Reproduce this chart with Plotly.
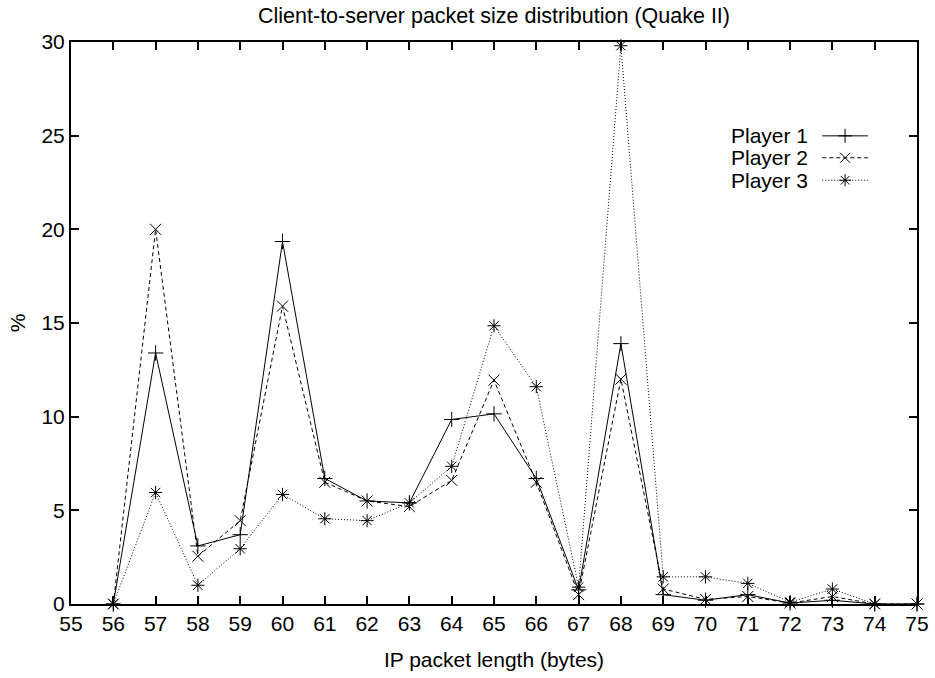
import plotly.graph_objects as go

sizes = [56, 57, 58, 59, 60, 61, 62, 63, 64, 65, 66, 67, 68, 69, 70, 71, 72, 73, 74, 75]
player1 = [0.0, 13.4, 3.1, 3.7, 19.35, 6.7, 5.5, 5.4, 9.85, 10.15, 6.7, 0.75, 13.9, 0.5, 0.2, 0.5, 0.05, 0.2, 0.0, 0.0]
player2 = [0.0, 20.0, 2.55, 4.45, 15.9, 6.5, 5.5, 5.2, 6.6, 11.95, 6.5, 0.5, 12.0, 0.8, 0.25, 0.4, 0.05, 0.4, 0.0, 0.0]
player3 = [0.0, 5.95, 1.0, 2.95, 5.85, 4.55, 4.45, 5.4, 7.35, 14.85, 11.6, 0.9, 29.8, 1.45, 1.45, 1.1, 0.1, 0.8, 0.0, 0.0]
names = ["Player 1", "Player 2", "Player 3"]
series = [player1, player2, player3]
dashes = ["solid", "4px,3px", "1px,2px"]
symbols = ["cross-thin-open", "x-thin-open", "asterisk-open"]
xticks = list(range(55, 76))
yticks = [0, 5, 10, 15, 20, 25, 30]

font = "Liberation Sans, Arial, sans-serif"
FS = 21
fig = go.Figure()
for n, s, d, sym in zip(names, series, dashes, symbols):
    fig.add_trace(go.Scatter(
        x=sizes, y=s, mode="lines+markers", name=n,
        line=dict(color="black", width=1, dash=d),
        marker=dict(symbol=sym, size=11, color="black", line=dict(color="black", width=1)),
        showlegend=False, cliponaxis=False,
    ))

# gnuplot-style legend (text then sample), drawn on an overlay axis in plot fractions
leg_y = [0.833, 0.794, 0.754]
for n, d, sym, ly in zip(names, dashes, symbols, leg_y):
    fig.add_trace(go.Scatter(
        x=[0.888, 0.942], y=[ly, ly], mode="lines", xaxis="x2", yaxis="y2",
        line=dict(color="black", width=1, dash=d), showlegend=False, hoverinfo="skip"))
    fig.add_trace(go.Scatter(
        x=[0.915], y=[ly], mode="markers", xaxis="x2", yaxis="y2",
        marker=dict(symbol=sym, size=10, color="black", line=dict(color="black", width=1)),
        showlegend=False, hoverinfo="skip"))
    fig.add_annotation(text=n, xref="x2", yref="y2", x=0.8735, y=ly,
                       xanchor="right", yanchor="middle", showarrow=False,
                       font=dict(family=font, size=FS, color="black"))

axis_common = dict(showgrid=False, zeroline=False, showline=True, linecolor="black",
                   linewidth=2, mirror="ticks", ticks="inside", ticklen=8,
                   tickwidth=1.5, tickcolor="black", automargin=False,
                   tickfont=dict(family=font, size=FS, color="black"))
fig.update_layout(
    width=935, height=678,
    paper_bgcolor="white", plot_bgcolor="white",
    margin=dict(l=71, r=18, t=42, b=74),
    title=dict(text="Client-to-server packet size distribution (Quake II)",
               x=(71 + 917) / 2 / 935, xanchor="center", y=1 - 15 / 678, yanchor="middle",
               font=dict(family=font, size=21.5, color="black")),
    xaxis=dict(range=[55, 75], tickvals=xticks, ticktext=[str(t) for t in xticks],
               title=dict(text="IP packet length (bytes)", standoff=18,
                          font=dict(family=font, size=FS, color="black")),
               **axis_common),
    yaxis=dict(range=[0, 30], tickvals=yticks, ticktext=[str(t) for t in yticks],
               title=dict(text="%", standoff=10,
                          font=dict(family=font, size=FS, color="black")),
               **axis_common),
    xaxis2=dict(range=[0, 1], overlaying="x", anchor="y2", visible=False, fixedrange=True),
    yaxis2=dict(range=[0, 1], overlaying="y", anchor="x2", visible=False, fixedrange=True),
    showlegend=False,
)
fig.write_html("out.html", config={"displayModeBar": False},
               post_script="document.body.style.margin='0';document.body.style.overflow='hidden';")
